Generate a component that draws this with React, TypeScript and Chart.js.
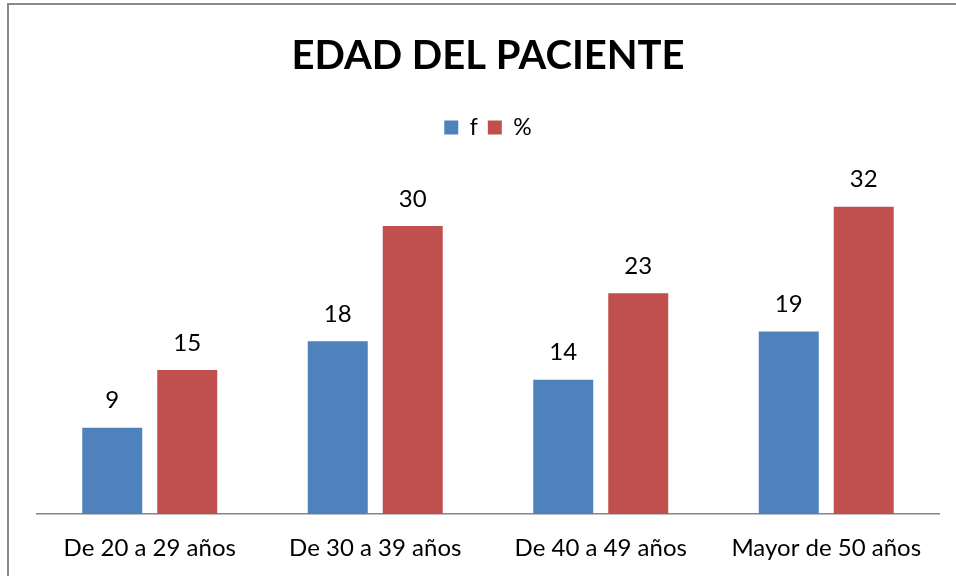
import React, { useEffect, useRef } from "react";
import { Chart, registerables } from "chart.js";

Chart.register(...registerables);

const title = "EDAD DEL PACIENTE";
const categories = ["De 20 a 29 años", "De 30 a 39 años", "De 40 a 49 años", "Mayor de 50 años"];
const seriesNames = ["f", "%"];
const fValues = [9, 18, 14, 19];
const pctValues = [15, 30, 23, 32];
const colors = ["#4F81BD", "#C0504D"];

const FONT = "Lato, 'Open Sans', sans-serif";

const valueLabels = {
  id: "valueLabels",
  afterDatasetsDraw(chart: any) {
    const ctx = chart.ctx;
    ctx.save();
    ctx.font = `24px ${FONT}`;
    ctx.fillStyle = "#000";
    ctx.textAlign = "center";
    ctx.textBaseline = "middle";
    chart.data.datasets.forEach((ds: any, di: number) => {
      const meta = chart.getDatasetMeta(di);
      meta.data.forEach((el: any, i: number) => {
        ctx.fillText(String(ds.data[i]), el.x, el.y - 27);
      });
    });
    ctx.restore();
  },
};

export default function App() {
  const ref = useRef<HTMLCanvasElement>(null);
  useEffect(() => {
    if (!ref.current) return;
    const chart = new Chart(ref.current, {
      type: "bar",
      data: {
        labels: categories,
        datasets: [
          { label: seriesNames[0], data: fValues, backgroundColor: colors[0] },
          { label: seriesNames[1], data: pctValues, backgroundColor: colors[1] },
        ],
      },
      options: {
        animation: false,
        responsive: false,
        devicePixelRatio: 1,
        layout: { padding: { left: 37, right: 17, top: 0, bottom: -7 } },
        datasets: { bar: { categoryPercentage: 0.665, barPercentage: 0.8 } },
        plugins: {
          title: {
            display: true,
            text: title,
            color: "#000",
            font: { family: FONT, size: 40, weight: "bold", lineHeight: 1.2 },
            padding: { top: 32, bottom: 26 },
          },
          legend: {
            display: true,
            position: "top",
            labels: {
              color: "#000",
              font: { family: FONT, size: 23, lineHeight: 1.2 },
              boxWidth: 14,
              boxHeight: 14,
              padding: 10,
            },
          },
          tooltip: { enabled: false },
        },
        scales: {
          x: {
            grid: { display: false, drawTicks: false },
            border: { display: true, color: "#868686", width: 1.5 },
            ticks: { color: "#000", font: { family: FONT, size: 24 }, padding: 20 },
          },
          y: { display: false, min: 0, max: 38 },
        },
      },
      plugins: [valueLabels],
    });
    return () => chart.destroy();
  }, []);
  return (
    <div style={{ position: "fixed", left: 0, top: 0, width: 956, height: 576, background: "#fff" }}>
      <canvas ref={ref} width={956} height={576} style={{ position: "absolute", left: 0, top: 0 }} />
      <div
        style={{
          position: "absolute",
          left: 7,
          top: 3,
          width: 949,
          height: 573,
          borderTop: "2px solid #8a8a8a",
          borderLeft: "2px solid #8a8a8a",
          boxSizing: "border-box",
          pointerEvents: "none",
        }}
      />
    </div>
  );
}
